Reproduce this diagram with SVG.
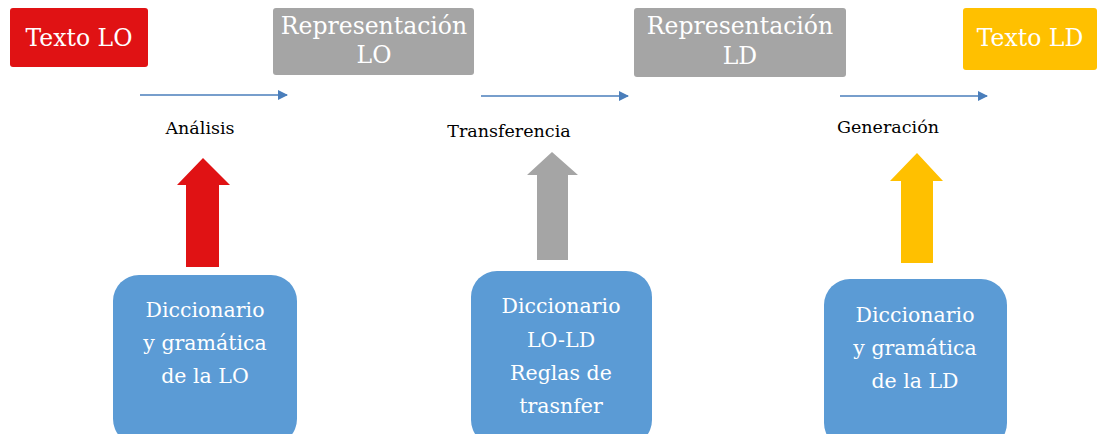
<svg xmlns="http://www.w3.org/2000/svg" width="1103" height="434" viewBox="0 0 1103 434">
<style>
.top{font-family:"DejaVu Serif","Liberation Serif",serif;font-size:23.5px;fill:#fff;text-anchor:middle}
.lbl{font-family:"DejaVu Serif","Liberation Serif",serif;font-size:17.5px;fill:#000;text-anchor:middle}
.box{font-family:"DejaVu Serif","Liberation Serif",serif;font-size:20.5px;fill:#fff;text-anchor:middle}
.con{stroke:#4A7EBB;stroke-width:1.6;fill:none;marker-end:url(#ah)}
.dict{fill:#5B9BD5}
</style>
<defs>
<marker id="ah" markerWidth="10" markerHeight="10" refX="9" refY="5" orient="auto" markerUnits="userSpaceOnUse" viewBox="0 0 10 10">
<path d="M0,0 L10,5 L0,10 Z" fill="#4A7EBB"/>
</marker>
</defs>
<rect width="1103" height="434" fill="#fff"/>
<g id="texto-lo">
<rect x="10" y="8" width="138" height="59" rx="3" fill="#E01214"/>
<text class="top" x="79" y="46">Texto LO</text>
</g>
<g id="rep-lo">
<rect x="273" y="8" width="201" height="67" rx="3" fill="#A5A5A5"/>
<text class="top" x="374" y="34">Representación</text>
<text class="top" x="374" y="63">LO</text>
</g>
<g id="rep-ld">
<rect x="634" y="8" width="212" height="69" rx="3" fill="#A5A5A5"/>
<text class="top" x="740" y="34">Representación</text>
<text class="top" x="740" y="64">LD</text>
</g>
<g id="texto-ld">
<rect x="963" y="8" width="134" height="62" rx="3" fill="#FFC000"/>
<text class="top" x="1030" y="46">Texto LD</text>
</g>
<g id="connectors">
<line class="con" x1="140" y1="95" x2="287" y2="95"/>
<line class="con" x1="481" y1="96" x2="628" y2="96"/>
<line class="con" x1="840" y1="96" x2="987" y2="96"/>
<path d="M203,158 L230,185 L219,185 L219,267 L186,267 L186,185 L177,185 Z" fill="#E01214"/>
<path d="M552,152 L578,175 L568,175 L568,260 L537,260 L537,175 L527,175 Z" fill="#A5A5A5"/>
<path d="M917,153 L943,181 L933,181 L933,263 L901,263 L901,181 L890,181 Z" fill="#FFC000"/>
</g>
<g id="label-analisis"><text class="lbl" x="200" y="134">Análisis</text></g>
<g id="label-transferencia"><text class="lbl" x="509" y="137">Transferencia</text></g>
<g id="label-generacion"><text class="lbl" x="888" y="133">Generación</text></g>
<g id="dict-lo">
<rect class="dict" x="113" y="275" width="184" height="170" rx="26"/>
<text class="box" x="205" y="317">Diccionario</text>
<text class="box" x="205" y="350">y gramática</text>
<text class="box" x="205" y="383">de la LO</text>
</g>
<g id="dict-lold">
<rect class="dict" x="471" y="271" width="181" height="175" rx="26"/>
<text class="box" x="561" y="313">Diccionario</text>
<text class="box" x="561" y="347">LO-LD</text>
<text class="box" x="561" y="380">Reglas de</text>
<text class="box" x="561" y="413">trasnfer</text>
</g>
<g id="dict-ld">
<rect class="dict" x="824" y="279" width="183" height="170" rx="26"/>
<text class="box" x="915" y="322">Diccionario</text>
<text class="box" x="915" y="355">y gramática</text>
<text class="box" x="915" y="388">de la LD</text>
</g>
</svg>
